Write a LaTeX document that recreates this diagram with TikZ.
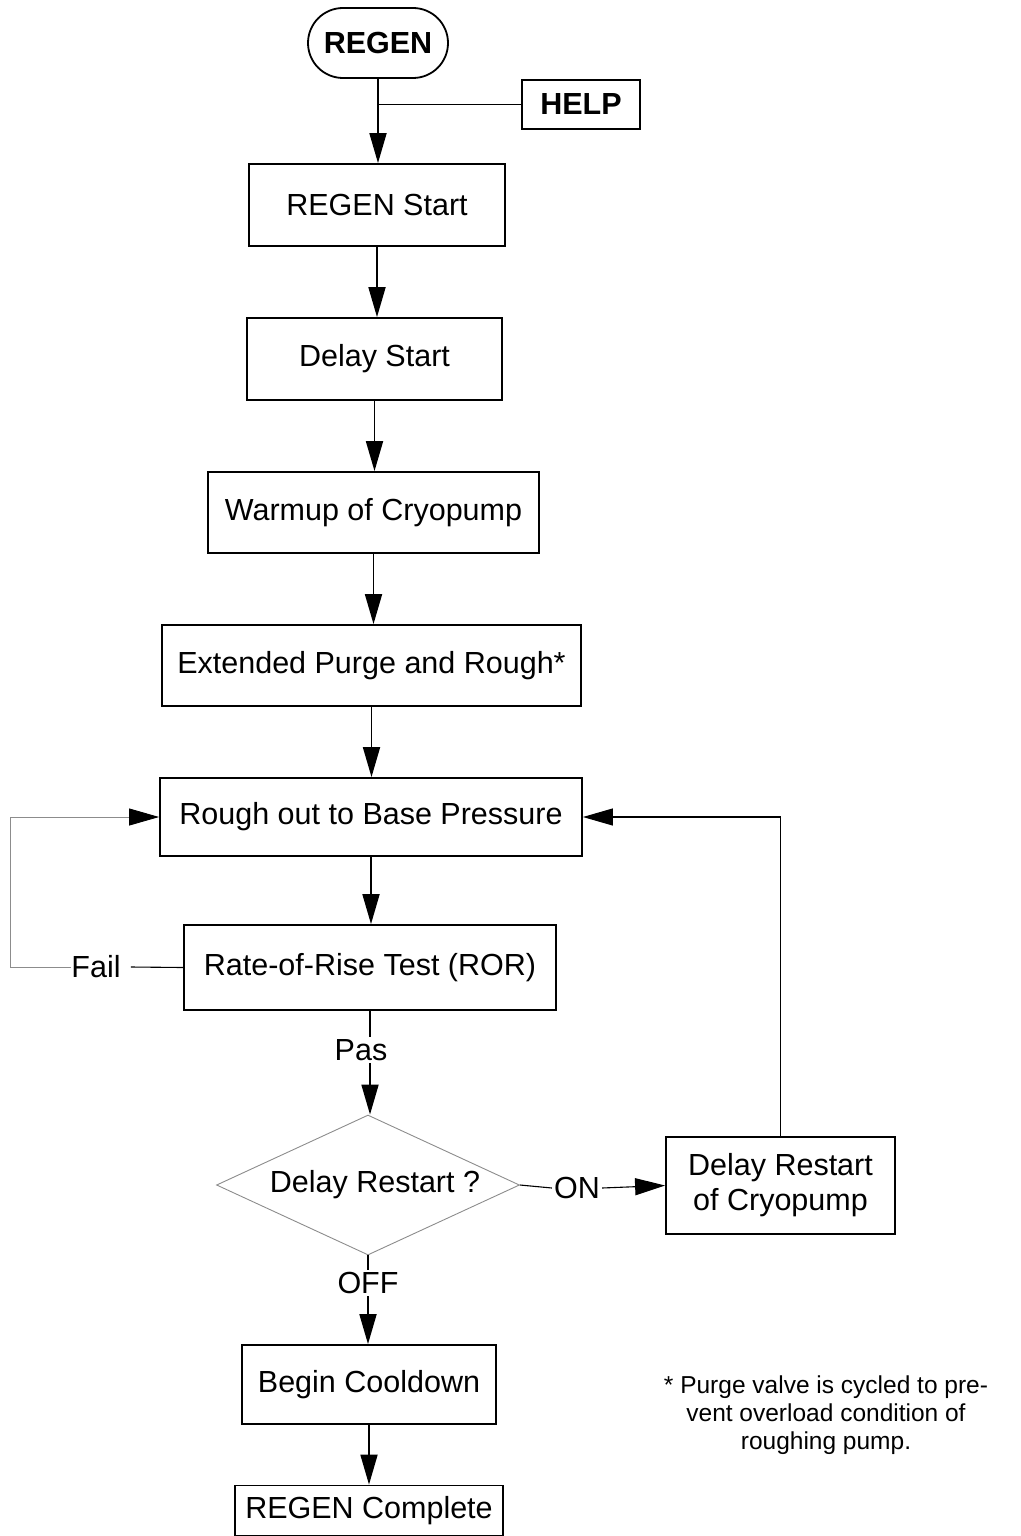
\documentclass[tikz,border=0pt]{standalone}
\usepackage{fontspec}
\setmainfont{Liberation Sans}
\usetikzlibrary{arrows.meta,shapes.geometric}
\begin{document}
\begin{tikzpicture}[x=1pt,y=-1pt,
  box/.style={draw,line width=1.8pt,inner sep=0pt,align=center,font=\fontsize{30.5}{35}\selectfont},
  boldbox/.style={box,font=\fontsize{30.5}{35}\selectfont\bfseries},
  lbl/.style={inner xsep=2pt,inner ysep=2pt,font=\fontsize{30.5}{35}\selectfont},
  tip/.style={-{Triangle[length=30pt,width=17pt,color=black]}},
  thickline/.style={line width=1.8pt},
  thinline/.style={line width=1.1pt},
  grayline/.style={line width=0.9pt,draw=black!45},
  note/.style={align=center,font=\fontsize{24.5}{28}\selectfont}
]
\useasboundingbox (0,0) rectangle (1020,1536);

% nodes
\node[boldbox,rounded corners=35pt,minimum width=140,minimum height=70] (regen) at (378,43) {REGEN};
\node[boldbox,minimum width=118,minimum height=49] (help) at (581,104.5) {HELP};
\node[box,minimum width=256,minimum height=82] (rs) at (377,205) {REGEN Start};
\node[box,minimum width=255,minimum height=82] (ds) at (374.5,359) {Delay Start};
\node[box,minimum width=331,minimum height=81] (wc) at (373.5,512.5) {Warmup of Cryopump};
\node[box,minimum width=419,minimum height=81] (ep) at (371.5,665.5) {Extended Purge and Rough*};
\node[box,minimum width=422,minimum height=78] (ro) at (371,817) {Rough out to Base Pressure};
\node[box,minimum width=372,minimum height=85] (ror) at (370,967.5) {Rate-of-Rise Test (ROR)};
\node[diamond,draw=black!45,line width=0.9pt,inner sep=0pt,aspect=2.16,
      minimum width=303,minimum height=140,font=\fontsize{30.5}{35}\selectfont] (dia) at (368,1185) {\hspace*{14pt}Delay Restart ?};
\node[box,minimum width=229,minimum height=97] (drc) at (780.5,1185.5) {Delay Restart\\of Cryopump};
\node[box,minimum width=254,minimum height=79] (bc) at (369,1384.5) {Begin Cooldown};
\node[box,minimum width=268,minimum height=50] (rc) at (369,1510.5) {REGEN Complete};

\node[lbl] (pas) at (361,1050) {Pas};
\node[lbl] (off) at (368,1283) {OFF};
\node[lbl] (on) at (577,1188) {ON};
\node[lbl,inner xsep=0pt] (fail) at (96,967) {Fail};

\node[note] (fn) at (826,1415) {* Purge valve is cycled to pre-\\vent overload condition of\\roughing pump.};

\coordinate (fl) at (10,967);

% connectors
\draw[thickline,tip] (regen.south) -- (regen.south |- rs.north);
\draw[thickline] (help.west) -- (help.west -| regen.south);
\draw[thickline,tip] (rs.south) -- (rs.south |- ds.north);
\draw[thickline,tip] (ds.south) -- (ds.south |- wc.north);
\draw[thickline,tip] (wc.south) -- (wc.south |- ep.north);
\draw[thickline,tip] (ep.south) -- (ep.south |- ro.north);
\draw[thickline,tip] (ro.south) -- (ro.south |- ror.north);

\draw[thinline] (ror.west) -- ([xshift=10pt]fail.east);
\draw[grayline,tip] (fail.west) -- (fl) |- (ro.west);

\draw[thickline] (ror.south) -- (ror.south |- pas.north);
\draw[thickline,tip] (ror.south |- pas.south) -- (ror.south |- dia.north);

\draw[thinline] (dia.east) -- (on.west);
\draw[thinline,tip] (on.east) -- (drc.west);
\draw[thinline,tip] (drc.north) |- (ro.east);

\draw[thickline] (dia.south) -- (dia.south |- off.north);
\draw[thickline,tip] (dia.south |- off.south) -- (dia.south |- bc.north);
\draw[thickline,tip] (bc.south) -- (bc.south |- rc.north);
\end{tikzpicture}
\end{document}
